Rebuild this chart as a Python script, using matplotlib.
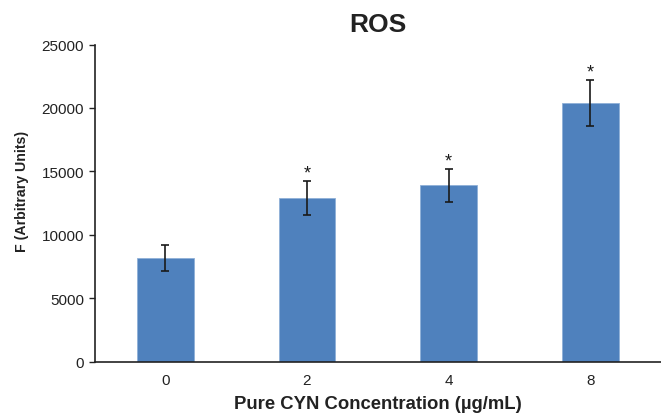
import matplotlib.pyplot as plt

plt.rcParams['font.family'] = ['Liberation Sans', 'DejaVu Sans']

# ROS fluorescence vs. CYN concentration
conc_labels = ['0', '2', '4', '8']
ros_mean = [8150, 12900, 13900, 20400]
ros_err = [1020, 1340, 1300, 1790]
significant = [False, True, True, True]

fig = plt.figure(figsize=(6.61, 4.14), dpi=100)
ax = fig.add_axes([0.143, 0.124, 0.857, 0.766])

x = range(len(conc_labels))
ax.bar(x, ros_mean, width=0.4, color='#4f81bd', edgecolor='#8fb0d8', linewidth=0.6,
       yerr=ros_err, error_kw=dict(ecolor='#1a1a1a', elinewidth=1.2, capsize=3, capthick=1.2))

# significance markers above the error bars
for i, (m, e, s) in enumerate(zip(ros_mean, ros_err, significant)):
    if s:
        ax.text(i, m + e - 50, '*', ha='center', va='bottom', fontsize=13, color='#1a1a1a')

ax.set_xlim(-0.5, 3.5)
ax.set_ylim(0, 25000)
ax.set_yticks(range(0, 25001, 5000))
ax.set_xticks(list(x))
ax.set_xticklabels(conc_labels)
ax.tick_params(axis='x', length=0, labelsize=11, pad=8)
ax.tick_params(axis='y', length=4, width=1, labelsize=11, direction='out')
ax.tick_params(axis='both', colors='#222222', labelcolor='#222222')

for side in ['top', 'right']:
    ax.spines[side].set_visible(False)
for side in ['left', 'bottom']:
    ax.spines[side].set_color('#222222')
    ax.spines[side].set_linewidth(1.2)

ax.set_title('ROS', fontsize=19, fontweight='bold', color='#222222', pad=10)
ax.set_xlabel('Pure CYN Concentration (µg/mL)', fontsize=13.3, fontweight='bold', color='#222222', labelpad=6)
ax.set_ylabel('F (Arbitrary Units)', fontsize=10.2, fontweight='bold', color='#222222')
ax.yaxis.set_label_coords(-0.116, 0.54)

plt.savefig('out.png', dpi=100)
